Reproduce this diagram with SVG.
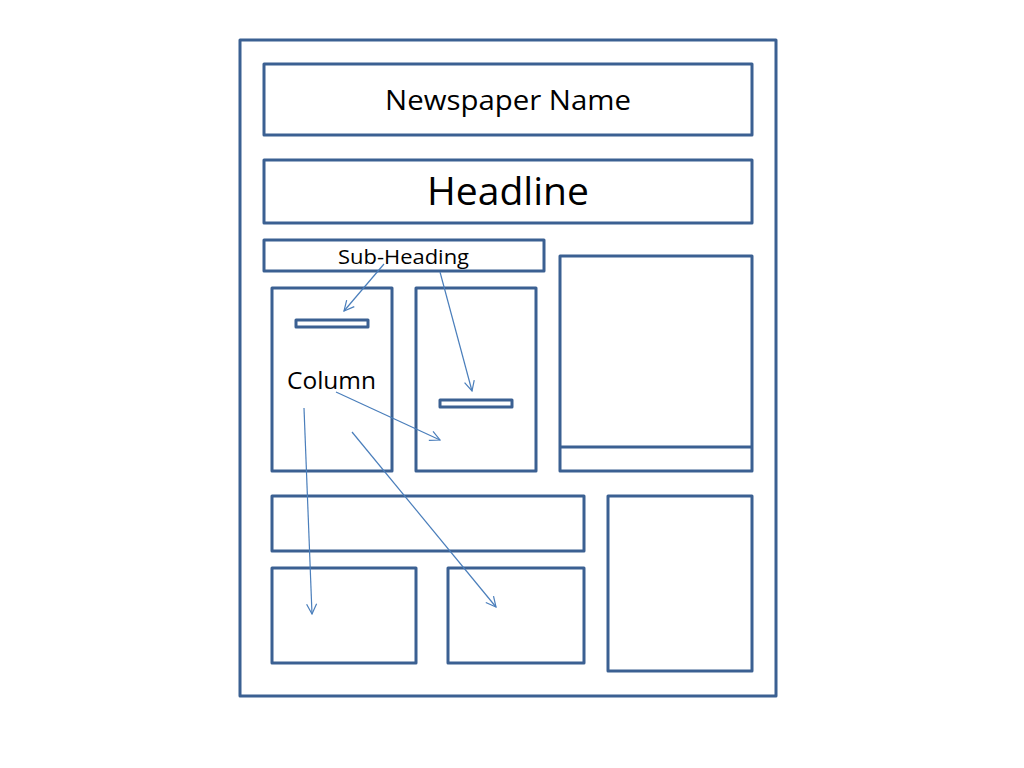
<svg xmlns="http://www.w3.org/2000/svg" width="1024" height="768" viewBox="0 0 1024 768">
<style>
.box{fill:none;stroke:#3B6092;stroke-width:3;stroke-linejoin:round}
.lbl{font-family:"Open Sans","Liberation Sans",sans-serif;fill:#000}
.arr{fill:none;stroke:#4A7EBB;stroke-width:1.2;marker-end:url(#ah)}
</style>
<defs>
<marker id="ah" viewBox="0 0 12 12" refX="11" refY="6" markerWidth="12" markerHeight="12" markerUnits="userSpaceOnUse" orient="auto">
<path d="M1,1 L11,6 L1,11" fill="none" stroke="#4A7EBB" stroke-width="1.2"/>
</marker>
</defs>
<rect width="1024" height="768" fill="#fff"/>
<g id="page"><rect class="box" x="240" y="40" width="536" height="656"/></g>
<g id="newspaper-name"><rect class="box" x="264" y="64" width="488" height="71"/><text class="lbl" x="385" y="110" font-size="27" textLength="246" lengthAdjust="spacingAndGlyphs">Newspaper Name</text></g>
<g id="headline"><rect class="box" x="264" y="160" width="488" height="63"/><text class="lbl" x="427" y="205" font-size="38" textLength="162" lengthAdjust="spacingAndGlyphs">Headline</text></g>
<g id="sub-heading"><rect class="box" x="264" y="240" width="280" height="31"/><text class="lbl" x="338" y="264" font-size="20" textLength="131" lengthAdjust="spacingAndGlyphs">Sub-Heading</text></g>
<g id="column1"><rect class="box" x="272" y="288" width="120" height="183"/><text class="lbl" x="287" y="389" font-size="24" textLength="89" lengthAdjust="spacingAndGlyphs">Column</text></g>
<g id="bar1"><rect class="box" x="296" y="320" width="72" height="7"/></g>
<g id="column2"><rect class="box" x="416" y="288" width="120" height="183"/></g>
<g id="bar2"><rect class="box" x="440" y="400" width="72" height="7"/></g>
<g id="photo"><rect class="box" x="560" y="256" width="192" height="215"/><line class="box" x1="560" y1="447" x2="752" y2="447"/></g>
<g id="wide-box"><rect class="box" x="272" y="496" width="312" height="55"/></g>
<g id="bottom-left"><rect class="box" x="272" y="568" width="144" height="95"/></g>
<g id="bottom-middle"><rect class="box" x="448" y="568" width="136" height="95"/></g>
<g id="bottom-right"><rect class="box" x="608" y="496" width="144" height="175"/></g>
<g id="connectors">
<line class="arr" x1="384" y1="264" x2="344" y2="311"/>
<line class="arr" x1="440" y1="272" x2="472" y2="391"/>
<line class="arr" x1="336" y1="392" x2="440" y2="440"/>
<line class="arr" x1="304" y1="408" x2="312" y2="614"/>
<line class="arr" x1="352" y1="432" x2="496" y2="607"/>
</g>
</svg>
